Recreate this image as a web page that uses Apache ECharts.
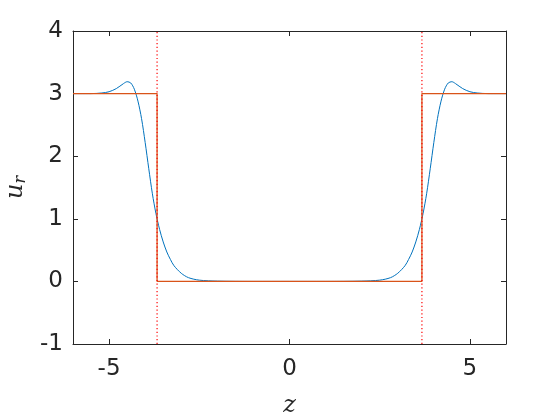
<!DOCTYPE html>
<html>
<head>
<meta charset="utf-8">
<script src="https://cdn.jsdelivr.net/npm/echarts@6/dist/echarts.min.js"></script>
<style>
  html, body { margin: 0; padding: 0; background: #fff; }
  #chart { width: 560px; height: 420px; }
</style>
</head>
<body>
<div id="chart"></div>
<script>
  // smooth profile u_r(z)
  var zBlue = [-6.0, -5.5, -5.2, -5.0, -4.8, -4.6, -4.5, -4.4, -4.3, -4.2, -4.1, -4.0, -3.9, -3.8, -3.7, -3.6, -3.5, -3.4, -3.3, -3.2, -3.0, -2.8, -2.5, -2.0, -1.0, 0.0,
               1.0, 2.0, 2.5, 2.8, 3.0, 3.2, 3.3, 3.4, 3.5, 3.6, 3.7, 3.8, 3.9, 4.0, 4.1, 4.2, 4.3, 4.4, 4.5, 4.6, 4.8, 5.0, 5.2, 5.5, 6.0]
  var uBlue = [3.00, 3.00, 3.01, 3.03, 3.08, 3.16, 3.19, 3.17, 3.07, 2.88, 2.60, 2.22, 1.80, 1.40, 1.08, 0.83, 0.63, 0.47, 0.35, 0.25, 0.13, 0.06, 0.02, 0.005, 0.0, 0.0,
               0.0, 0.005, 0.02, 0.06, 0.13, 0.25, 0.35, 0.47, 0.63, 0.83, 1.08, 1.40, 1.80, 2.22, 2.60, 2.88, 3.07, 3.17, 3.19, 3.16, 3.08, 3.03, 3.01, 3.00, 3.00]
  // step profile
  var zStep = [-6, -3.67, -3.67, 3.67, 3.67, 6]
  var uStep = [3, 3, 0, 0, 3, 3]
  // interface positions
  var zWall = [-3.67, 3.67]
  var xTicks = [-5, 0, 5]

  var pairs = function (xs, ys) { return xs.map(function (x, i) { return [x, ys[i]] }) }

  var txt = '#262626'
  var tickFont = { fontFamily: 'DejaVu Sans', fontSize: 23, color: txt }

  var series = [
    { type: 'line', data: pairs(zBlue, uBlue), smooth: 0.3, showSymbol: false,
      lineStyle: { color: '#0072BD', width: 1 }, z: 2 },
    { type: 'line', data: pairs(zStep, uStep), showSymbol: false,
      lineStyle: { color: '#D95319', width: 1.3 }, z: 3 }
  ]
  zWall.forEach(function (w) {
    series.push({ type: 'line', data: [[w, -1], [w, 4]], showSymbol: false,
      lineStyle: { color: '#ff0000', width: 1.2, type: [1.2, 2.5] }, z: 4 })
  })

  var chart = echarts.init(document.getElementById('chart'))
  chart.setOption({
    animation: false,
    grid: { left: 73, right: 54, top: 31, bottom: 76, outerBoundsMode: 'none' },
    xAxis: [{
      type: 'value', min: -6, max: 6,
      axisLine: { onZero: false, lineStyle: { color: txt, width: 1 } },
      axisLabel: Object.assign({ margin: 14, customValues: xTicks }, tickFont),
      axisTick: { inside: true, length: 5, customValues: xTicks, lineStyle: { color: txt } },
      splitLine: { show: false },
      name: 'z', nameLocation: 'middle', nameGap: 50,
      nameTextStyle: { fontFamily: 'DejaVu Serif', fontStyle: 'italic', fontSize: 24, color: txt }
    }, {
      type: 'value', min: -6, max: 6, position: 'top',
      axisLine: { onZero: false, lineStyle: { color: txt, width: 1 } },
      axisTick: { inside: true, length: 5, customValues: xTicks, lineStyle: { color: txt } },
      axisLabel: { show: false }, splitLine: { show: false }
    }],
    yAxis: [{
      type: 'value', min: -1, max: 4, interval: 1,
      axisLine: { show: true, onZero: false, lineStyle: { color: txt, width: 1 } },
      axisTick: { show: true, inside: true, length: 5, lineStyle: { color: txt } },
      axisLabel: Object.assign({ margin: 10 }, tickFont),
      splitLine: { show: false },
      name: '{u|u}{r|r}', nameLocation: 'middle', nameGap: 44, nameRotate: 90,
      nameTextStyle: {
        rich: {
          u: { fontFamily: 'DejaVu Serif', fontStyle: 'italic', fontSize: 24, color: txt },
          r: { fontFamily: 'DejaVu Serif', fontStyle: 'italic', fontSize: 16, color: txt, verticalAlign: 'bottom', padding: [10, 0, 0, 0] }
        }
      }
    }, {
      type: 'value', min: -1, max: 4, interval: 1, position: 'right',
      axisLine: { show: true, onZero: false, lineStyle: { color: txt, width: 1 } },
      axisTick: { show: true, inside: true, length: 5, lineStyle: { color: txt } },
      axisLabel: { show: false }, splitLine: { show: false }
    }],
    series: series
  })
</script>
</body>
</html>
